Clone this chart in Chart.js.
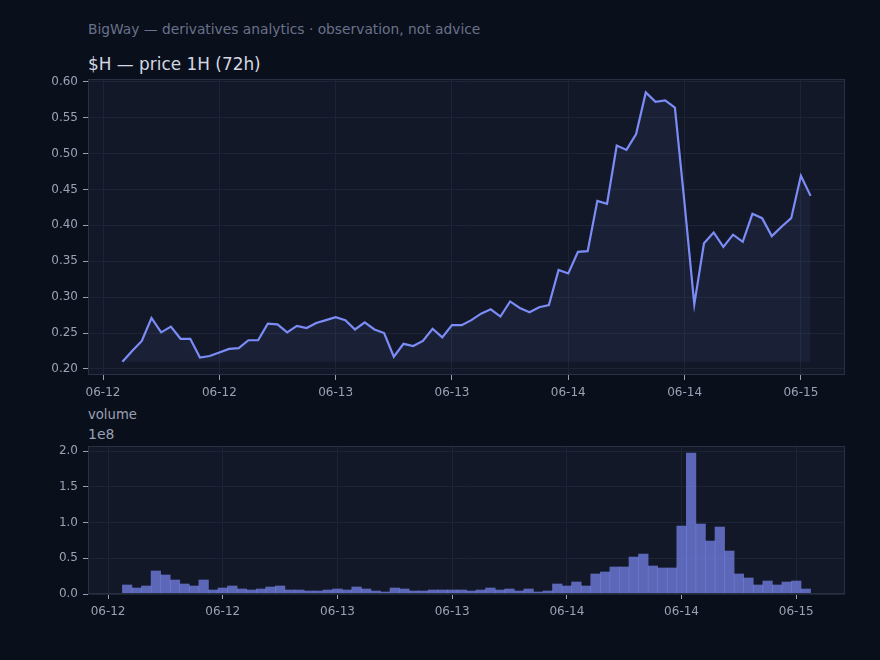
<!DOCTYPE html>
<html>
<head>
<meta charset="utf-8">
<script src="https://cdn.jsdelivr.net/npm/chart.js@4/dist/chart.umd.min.js"></script>
<style>
  html, body { margin: 0; padding: 0; background: #0a0f1c; }
  #wrap { position: relative; width: 880px; height: 660px; overflow: hidden; font-family: 'DejaVu Sans', sans-serif; }
  .txt { position: absolute; white-space: nowrap; }
  canvas { position: absolute; left: 0; }
</style>
</head>
<body>
<div id="wrap">
  <div class="txt" style="left:88px; top:21px; font-size:13.8px; color:#69728a;">BigWay — derivatives analytics · observation, not advice</div>
  <div class="txt" style="left:88px; top:54px; font-size:16.9px; color:#d3d8e2;">$H — price 1H (72h)</div>
  <div class="txt" style="left:88px; top:407px; font-size:13.2px; color:#9aa2b4;">volume</div>
  <div class="txt" style="left:88px; top:426px; font-size:14px; color:#9aa2b4;">1e8</div>
  <canvas id="priceChart" width="880" height="400" style="top:0"></canvas>
  <canvas id="volumeChart" width="880" height="260" style="top:400px"></canvas>
</div>
<script>
// hours since 06-12 00:00, first candle at 02:00
var FIRST_HOUR = 2;
var tickHours = [0, 12, 24, 36, 48, 60, 72];
var tickLabels = ['06-12', '06-12', '06-13', '06-13', '06-14', '06-14', '06-15'];

var price = [
    0.210, 0.225, 0.239, 0.271, 0.251, 0.259, 0.242, 0.242, 0.216, 0.218,
    0.223, 0.228, 0.229, 0.240, 0.240, 0.263, 0.262, 0.251, 0.260, 0.257,
    0.264, 0.268, 0.272, 0.268, 0.255, 0.265, 0.255, 0.250, 0.217, 0.235,
    0.232, 0.239, 0.256, 0.244, 0.261, 0.261, 0.268, 0.277, 0.283, 0.273,
    0.294, 0.285, 0.279, 0.286, 0.289, 0.338, 0.333, 0.363, 0.364, 0.434,
    0.430, 0.511, 0.505, 0.527, 0.585, 0.572, 0.574, 0.564, 0.430, 0.290,
    0.375, 0.390, 0.370, 0.387, 0.377, 0.416, 0.410, 0.385, 0.398, 0.410,
    0.469, 0.441
];

// volume in units of 1e8
var volume = [
    0.126, 0.084, 0.112, 0.322, 0.266, 0.196, 0.140, 0.112, 0.196, 0.056,
    0.084, 0.112, 0.070, 0.056, 0.070, 0.098, 0.112, 0.056, 0.056, 0.042,
    0.042, 0.056, 0.070, 0.056, 0.098, 0.070, 0.042, 0.028, 0.084, 0.070,
    0.042, 0.042, 0.056, 0.056, 0.056, 0.056, 0.042, 0.056, 0.084, 0.056,
    0.070, 0.042, 0.070, 0.028, 0.042, 0.140, 0.112, 0.168, 0.112, 0.280,
    0.308, 0.378, 0.378, 0.517, 0.559, 0.392, 0.364, 0.364, 0.951, 1.972,
    0.979, 0.741, 0.937, 0.601, 0.280, 0.224, 0.126, 0.182, 0.126, 0.168,
    0.182, 0.070
];

var LINE = '#7c8cf7';
var FACE = '#121827';
var SPINE = '#283044';
var GRID = '#1d2436';
var TICK = '#9aa2b4';

Chart.defaults.font.family = "'DejaVu Sans', sans-serif";
Chart.defaults.font.size = 12;
Chart.defaults.color = TICK;

var axesBox = {
    id: 'axesBox',
    beforeDraw: function (chart) {
        var a = chart.chartArea, ctx = chart.ctx;
        ctx.save();
        ctx.fillStyle = FACE;
        ctx.fillRect(a.left, a.top, a.right - a.left, a.bottom - a.top);
        ctx.restore();
    },
    afterDraw: function (chart) {
        var a = chart.chartArea, ctx = chart.ctx;
        ctx.save();
        ctx.strokeStyle = SPINE;
        ctx.lineWidth = 1;
        ctx.strokeRect(a.left + 0.5, a.top + 0.5, a.right - a.left - 1, a.bottom - a.top - 1);
        ctx.restore();
    }
};

function xAxis(min, max) {
    return {
        type: 'linear', min: min, max: max, offset: false,
        afterFit: function (s) { s.height = 25; },
        afterBuildTicks: function (s) { s.ticks = tickHours.map(function (h) { return {value: h}; }); },
        border: {display: false},
        grid: {color: GRID, tickColor: TICK, tickLength: 5, offset: false},
        ticks: {
            autoSkip: false, maxRotation: 0, padding: 6,
            callback: function (v) { var i = tickHours.indexOf(v); return i < 0 ? '' : tickLabels[i]; }
        }
    };
}

function yAxis(min, max, step, digits) {
    return {
        min: min, max: max,
        afterFit: function (s) { s.width = 88; },
        border: {display: false},
        grid: {color: GRID, tickColor: TICK, tickLength: 5},
        ticks: {
            stepSize: step, includeBounds: false, padding: 5,
            callback: function (v) { return v.toFixed(digits); }
        }
    };
}

var pricePoints = price.map(function (p, i) { return {x: FIRST_HOUR + i, y: p}; });
var volumePoints = volume.map(function (v, i) { return {x: FIRST_HOUR + i, y: v}; });

new Chart(document.getElementById('priceChart'), {
    type: 'line',
    data: {
        datasets: [{
            data: pricePoints,
            borderColor: LINE,
            borderWidth: 2.2,
            backgroundColor: 'rgba(124,140,247,0.08)',
            fill: {value: Math.min.apply(null, price)},
            pointRadius: 0,
            tension: 0
        }]
    },
    options: {
        responsive: false, animation: false, devicePixelRatio: 1,
        layout: {padding: {top: 79, right: 35, bottom: 0, left: 0}},
        plugins: {legend: {display: false}, tooltip: {enabled: false}},
        scales: {
            x: xAxis(-1.55, 76.55),
            y: yAxis(0.1916, 0.6037, 0.05, 2)
        }
    },
    plugins: [axesBox]
});

new Chart(document.getElementById('volumeChart'), {
    type: 'bar',
    data: {
        datasets: [{
            data: volumePoints,
            backgroundColor: 'rgba(120,134,240,0.72)',
            borderWidth: 0,
            categoryPercentage: 1,
            barPercentage: 1
        }]
    },
    options: {
        responsive: false, animation: false, devicePixelRatio: 1,
        layout: {padding: {top: 46, right: 35, bottom: 41, left: 0}},
        plugins: {legend: {display: false}, tooltip: {enabled: false}},
        scales: {
            x: xAxis(-2.1, 77.1),
            y: yAxis(0, 2.0706, 0.5, 1)
        }
    },
    plugins: [axesBox]
});
</script>
</body>
</html>
